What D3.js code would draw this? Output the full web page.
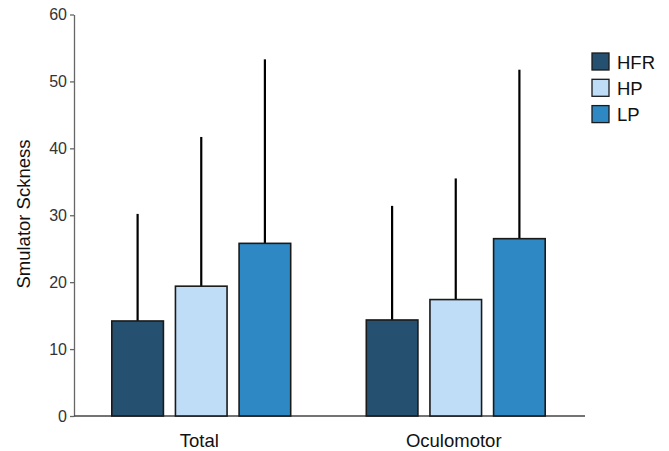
<!DOCTYPE html>
<meta charset="utf-8">
<html lang="en">
<head>
  <title>Simulator Sickness</title>
  <script src="https://d3js.org/d3.v7.min.js"></script>
  <style>
    body { margin: 0; background: #fff; }
    text { font-family: Arial, "Liberation Sans", sans-serif; }
  </style>
</head>
<body>
<div id="chart"></div>
<script>
  // data
  var categories = ["Total", "Oculomotor"];
  var series = ["HFR", "HP", "LP"];
  var means = { HFR: [14.2, 14.35], HP: [19.4, 17.4], LP: [25.8, 26.5] };
  var upper = { HFR: [30.2, 31.4], HP: [41.7, 35.5], LP: [53.3, 51.75] };
  var yTicks = [0, 10, 20, 30, 40, 50, 60];
  var colors = ["#26506f", "#c0ddf7", "#2e88c3"];

  var margin = {top: 14.5, right: 86, bottom: 35, left: 74},
      width = 669 - margin.left - margin.right,
      height = 451 - margin.top - margin.bottom;

  var svg = d3.select("#chart")
    .append("svg")
      .attr("width", 669)
      .attr("height", 451)
    .append("g")
      .attr("transform", "translate(" + margin.left + "," + margin.top + ")");

  var x0 = d3.scaleBand()
    .domain(categories)
    .range([0, 509]);

  var x1 = d3.scaleBand()
    .domain(series)
    .range([0, 178.9])
    .paddingInner(0.189)
    .paddingOuter(0);

  var y = d3.scaleLinear()
    .domain([0, 60])
    .range([height, 0]);

  var color = d3.scaleOrdinal().domain(series).range(colors);

  // Y axis
  var yAxis = svg.append("g")
    .call(d3.axisLeft(y).tickValues(yTicks).tickSize(4).tickSizeOuter(0).tickPadding(3));
  yAxis.select(".domain").attr("stroke", "#666").attr("stroke-width", 1.3);
  yAxis.selectAll(".tick line").attr("stroke", "#666").attr("stroke-width", 1.3);
  yAxis.selectAll(".tick text").attr("fill", "#333").style("font-size", "16px");

  // X axis
  svg.append("line")
    .attr("x1", 0).attr("x2", 511)
    .attr("y1", height).attr("y2", height)
    .attr("stroke", "#444").attr("stroke-width", 1.3);

  svg.selectAll(".cat")
    .data(categories)
    .enter()
    .append("text")
      .attr("x", function (d) { return x0(d) + x0.bandwidth() / 2 - 2; })
      .attr("y", 446.5 - margin.top)
      .style("text-anchor", "middle")
      .style("font-size", "18.5px")
      .attr("fill", "#111")
      .text(function (d) { return d; });

  // Y axis label
  svg.append("text")
    .attr("transform", "rotate(-90)")
    .attr("x", -(214 - margin.top))
    .attr("y", 29.5 - margin.left)
    .style("text-anchor", "middle")
    .style("font-size", "18.5px")
    .attr("fill", "#111")
    .text("Smulator Sckness");

  // bars
  var rows = [];
  categories.forEach(function (c, i) {
    series.forEach(function (s) {
      rows.push({cat: c, key: s, value: means[s][i], hi: upper[s][i]});
    });
  });

  var groupOffset = (x0.bandwidth() - x1.range()[1]) / 2;

  function bx(d) { return x0(d.cat) + groupOffset + x1(d.key); }

  svg.append("g")
    .selectAll("line")
    .data(rows)
    .enter()
    .append("line")
      .attr("x1", function (d) { return bx(d) + x1.bandwidth() / 2; })
      .attr("x2", function (d) { return bx(d) + x1.bandwidth() / 2; })
      .attr("y1", function (d) { return y(d.value); })
      .attr("y2", function (d) { return y(d.hi); })
      .attr("stroke", "#000")
      .attr("stroke-width", 2.2);

  svg.append("g")
    .selectAll("rect")
    .data(rows)
    .enter()
    .append("rect")
      .attr("x", function (d) { return bx(d); })
      .attr("y", function (d) { return y(d.value); })
      .attr("width", x1.bandwidth())
      .attr("height", function (d) { return height - y(d.value); })
      .attr("fill", function (d) { return color(d.key); })
      .attr("stroke", "#1a1a1a")
      .attr("stroke-width", 1.6);

  // legend
  var legend = svg.append("g")
    .attr("transform", "translate(" + (592 - margin.left) + "," + (53 - margin.top) + ")");

  var item = legend.selectAll("g")
    .data(series)
    .enter()
    .append("g")
      .attr("transform", function (d, i) { return "translate(0," + i * 26.3 + ")"; });

  item.append("rect")
    .attr("width", 17)
    .attr("height", 17)
    .attr("fill", function (d) { return color(d); })
    .attr("stroke", "#1a1a1a")
    .attr("stroke-width", 1.3);

  item.append("text")
    .attr("x", 25)
    .attr("y", 15.5)
    .style("font-size", "18.5px")
    .attr("fill", "#111")
    .text(function (d) { return d; });
</script>
</body>
</html>
